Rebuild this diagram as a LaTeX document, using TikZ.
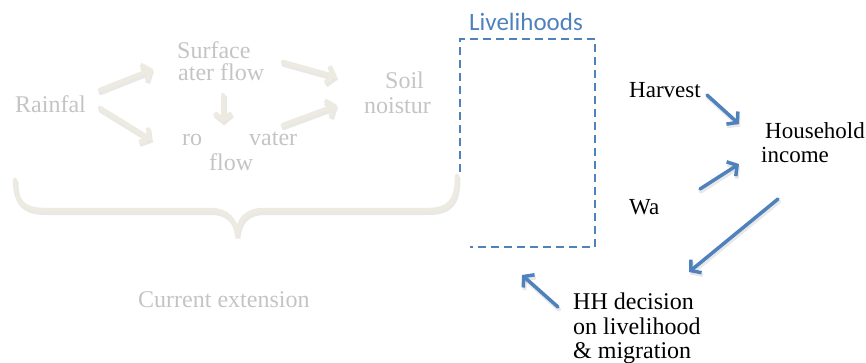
\documentclass[tikz,border=0pt]{standalone}
\usepackage{fontspec}
\setmainfont{Liberation Serif}
\newfontfamily\calib{Carlito}
\usetikzlibrary{arrows.meta}
\definecolor{gtext}{RGB}{196,196,196}
\definecolor{beige}{RGB}{236,234,225}
\definecolor{shad}{RGB}{205,203,196}
\definecolor{pblue}{RGB}{79,129,189}
\begin{document}
\begin{tikzpicture}[x=1pt,y=-1pt,
  lbl/.style={inner sep=0pt, anchor=base west},
  gl/.style={lbl, text=gtext, font=\fontsize{24}{26}\selectfont},
  bl/.style={lbl, text=black, font=\fontsize{23}{25}\selectfont},
  dl/.style={lbl, text=black, font=\fontsize{24}{26}\selectfont},
  garr/.style={draw=beige, line width=4.5pt, line cap=round, -{Straight Barb[length=7pt,width=17pt]}},
  gsh/.style={draw=shad, opacity=0.45, line width=5pt, line cap=round, -{Straight Barb[length=7pt,width=17pt]}},
  barr/.style={draw=pblue, line width=3.5pt, line cap=round, -{Straight Barb[length=7pt,width=17pt]}},
  bsh/.style={draw=gray, opacity=0.18, line width=4pt, line cap=round, -{Straight Barb[length=7pt,width=17pt]}},
]
\useasboundingbox (0,0) rectangle (866,362);

% gray texts
\node[gl] (rain) at (15,112) {Rainfal};
\node[gl] (surf1) at (177,58) {Surface};
\node[gl] (surf2) at (178,80) {ater flow};
\node[gl] (gw1) at (182,145) {ro};
\node[gl] (gw2) at (249,145) {vater};
\node[gl] (gw3) at (209,170) {flow};
\node[gl] (soil1) at (385,88) {Soil};
\node[gl] (soil2) at (364,113) {noistur};
\node[lbl, text=gtext, font=\fontsize{24}{26}\selectfont] (cur) at (138,307) {Current extension};

% gray arrow endpoints
\coordinate (a1s) at (100,90);  \coordinate (a1e) at (153,69);
\coordinate (a2s) at (100,108); \coordinate (a2e) at (152,140);
\coordinate (a3s) at (283,62);  \coordinate (a3e) at (337,77);
\coordinate (a4s) at (283,125); \coordinate (a4e) at (337,105);
\coordinate (a5s) at (223,95);  \coordinate (a5e) at (223,123);

\foreach \s/\e in {a1s/a1e,a2s/a2e,a3s/a3e,a4s/a4e,a5s/a5e}{
  \draw[gsh] ([shift={(1,2.5)}]\s) -- ([shift={(1,2.5)}]\e);
  \draw[garr] (\s) -- (\e);
}

% brace
\draw[shad, opacity=0.45, line width=5pt, line cap=round, shift={(1,2.5)}]
  (15,180) .. controls (15,203) and (25,210) .. (45,210) -- (210,210)
  .. controls (228,210) and (236,220) .. (237,236)
  .. controls (238,220) and (246,210) .. (264,210) -- (428,210)
  .. controls (450,210) and (457,200) .. (457,176);
\draw[beige, line width=4.5pt, line cap=round]
  (15,180) .. controls (15,203) and (25,210) .. (45,210) -- (210,210)
  .. controls (228,210) and (236,220) .. (237,236)
  .. controls (238,220) and (246,210) .. (264,210) -- (428,210)
  .. controls (450,210) and (457,200) .. (457,176);

% livelihoods
\node[lbl, text=pblue, font=\calib\fontsize{25}{27}\selectfont] (liv) at (469,30) {Livelihoods};
\draw[pblue, line width=2pt, dash pattern=on 8pt off 5pt]
  (460,172) -- (460,39) -- (595,39) -- (595,247) -- (470,247);

% black texts
\node[bl] (harv) at (629,97) {Harvest};
\node[bl] (hh1) at (765,138) {Household};
\node[bl] (inc) at (761,162) {income};
\node[bl] (wa) at (629,214) {Wa};
\node[dl] (dec1) at (573,309) {HH decision};
\node[dl] (dec2) at (573,334) {on livelihood};
\node[dl] (dec3) at (573,358) {\& migration};

% blue arrows
\coordinate (b1s) at (707,95);  \coordinate (b1e) at (739,124);
\coordinate (b2s) at (700,189); \coordinate (b2e) at (739,164);
\coordinate (b3s) at (778,199); \coordinate (b3e) at (689,272);
\coordinate (b4s) at (558,307); \coordinate (b4e) at (522,275);
\foreach \s/\e in {b1s/b1e,b2s/b2e,b3s/b3e,b4s/b4e}{
  \draw[bsh] ([shift={(1,2.5)}]\s) -- ([shift={(1,2.5)}]\e);
  \draw[barr] (\s) -- (\e);
}
\end{tikzpicture}
\end{document}
